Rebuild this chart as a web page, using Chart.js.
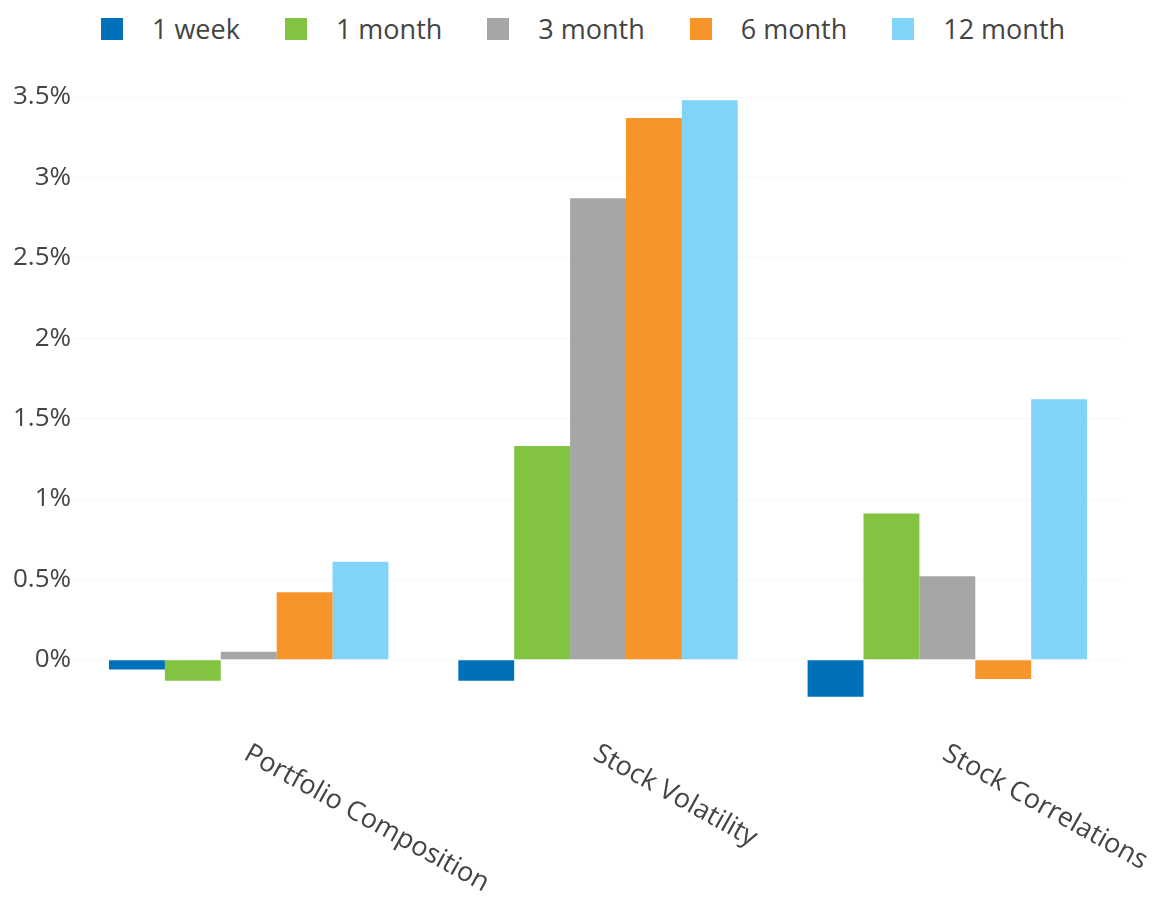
<!DOCTYPE html>
<html>
<head>
<meta charset="utf-8">
<script src="https://cdn.jsdelivr.net/npm/chart.js@4"></script>
<style>
    body { margin: 0; background: #fff; font-family: 'Open Sans', sans-serif; }
    #wrap { position: relative; width: 1158px; height: 905px; }
    #legend { position: absolute; left: 101px; top: 10px; display: flex; align-items: center; font-size: 27px; color: #444; }
    #legend .item { display: flex; align-items: center; margin-right: 45px; }
    #legend .box { width: 22px; height: 22px; margin-right: 29px; }
    canvas { position: absolute; left: 0; top: 0; }
</style>
</head>
<body>
<div id="wrap">
    <div id="legend"></div>
    <canvas id="chart" width="1158" height="905"></canvas>
</div>
<script>
// Categorías y series (valores en %)
const categories = ['Portfolio Composition', 'Stock Volatility', 'Stock Correlations'];
const seriesNames = ['1 week', '1 month', '3 month', '6 month', '12 month'];
const week1 = [-0.06, -0.13, -0.23];
const month1 = [-0.13, 1.33, 0.91];
const month3 = [0.05, 2.87, 0.52];
const month6 = [0.42, 3.37, -0.12];
const month12 = [0.61, 3.48, 1.62];
const yTicks = [0, 0.5, 1, 1.5, 2, 2.5, 3, 3.5];

const colors = ['#0070ba', '#82c341', '#a6a6a6', '#f7942a', '#81d4f7'];
const values = [week1, month1, month3, month6, month12];

// Leyenda en HTML
const legend = document.getElementById('legend');
seriesNames.forEach(function (name, i) {
    const item = document.createElement('div');
    item.className = 'item';
    item.innerHTML = '<span class="box" style="background:' + colors[i] + '"></span><span>' + name + '</span>';
    legend.appendChild(item);
});

// Etiquetas del eje X giradas hacia abajo a la derecha
const rotatedLabels = {
    id: 'rotatedLabels',
    afterDraw: function (chart) {
        const x = chart.scales.x;
        const c = chart.ctx;
        c.save();
        c.font = '27px "Open Sans"';
        c.fillStyle = '#444';
        c.textAlign = 'left';
        c.textBaseline = 'top';
        categories.forEach(function (label, i) {
            c.save();
            c.translate(x.getPixelForTick(i) + 4, chart.chartArea.bottom + 40);
            c.rotate(29 * Math.PI / 180);
            c.fillText(label, 0, 0);
            c.restore();
        });
        c.restore();
    }
};

new Chart(document.getElementById('chart'), {
    type: 'bar',
    data: {
        labels: categories,
        datasets: seriesNames.map(function (name, i) {
            return {
                label: name,
                data: values[i],
                backgroundColor: colors[i],
                borderWidth: 0,
                categoryPercentage: 0.8,
                barPercentage: 1.0
            };
        })
    },
    options: {
        responsive: false,
        animation: false,
        layout: { padding: { left: 10, right: 36, top: 97, bottom: 205 } },
        scales: {
            x: { display: false },
            y: {
                min: -0.25,
                max: 3.5,
                afterBuildTicks: function (scale) {
                    scale.ticks = yTicks.map(function (v) { return { value: v }; });
                },
                ticks: {
                    color: '#444',
                    padding: 3,
                    font: { family: 'Open Sans', size: 26 },
                    callback: function (v) { return v + '%'; }
                },
                grid: { color: 'rgba(0,0,0,0.03)', drawTicks: false },
                border: { display: false }
            }
        },
        plugins: {
            legend: { display: false },
            tooltip: { enabled: false }
        }
    },
    plugins: [rotatedLabels]
});
</script>
</body>
</html>
